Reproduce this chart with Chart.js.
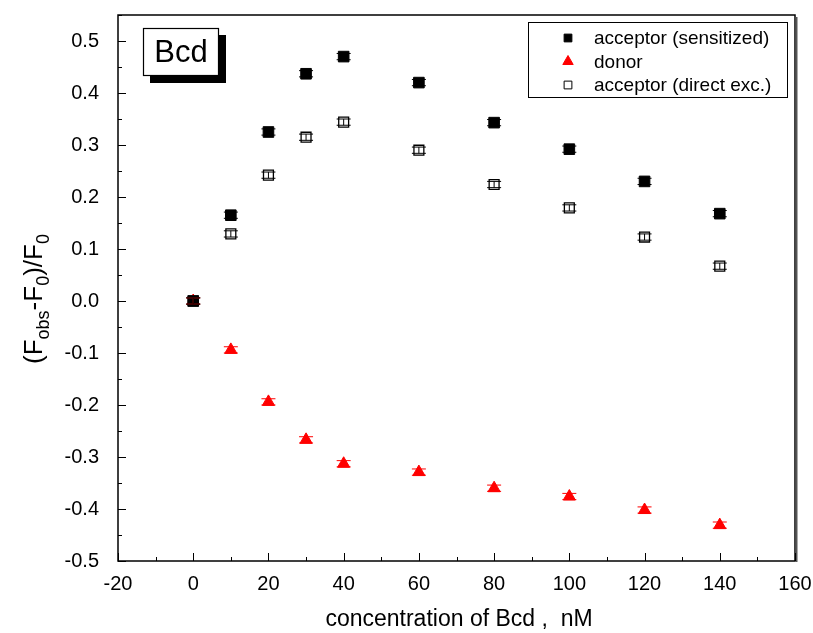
<!DOCTYPE html>
<html>
<head>
<meta charset="utf-8">
<script src="https://cdn.jsdelivr.net/npm/chart.js@4/dist/chart.umd.min.js"></script>
<style>
  body { margin: 0; background: #fff; }
  #wrap { width: 813px; height: 633px; }
</style>
</head>
<body>
<div id="wrap"><canvas id="chart" width="813" height="633"></canvas></div>
<script>
// Data
const concentrations = [0, 10, 20, 30, 40, 60, 80, 100, 120, 140];
const acceptorSensitized = [0, 0.165, 0.325, 0.437, 0.470, 0.420, 0.343, 0.292, 0.230, 0.168];
const donorValues = [0, -0.094, -0.194, -0.267, -0.313, -0.329, -0.360, -0.376, -0.402, -0.431];
const acceptorDirect = [0, 0.129, 0.242, 0.315, 0.344, 0.290, 0.224, 0.179, 0.123, 0.067];
const sensitizedErr = [0.006, 0.006, 0.006, 0.006, 0.006, 0.006, 0.006, 0.006, 0.006, 0.006];
const donorErr = [0.006, 0.006, 0.006, 0.006, 0.006, 0.006, 0.006, 0.006, 0.006, 0.006];
const directErr = [0.006, 0.006, 0.006, 0.006, 0.006, 0.006, 0.006, 0.006, 0.006, 0.006];
const seriesNames = ['acceptor (sensitized)', 'donor', 'acceptor (direct exc.)'];
const xTickValues = [-20, 0, 20, 40, 60, 80, 100, 120, 140, 160];
const yTickValues = [-0.5, -0.4, -0.3, -0.2, -0.1, 0.0, 0.1, 0.2, 0.3, 0.4, 0.5];
const xTitle = 'concentration of Bcd ,  nM';
const panelLabel = 'Bcd';

const FONT = '"Liberation Sans", Arial, sans-serif';

function toPoints(ys, errs) {
    return concentrations.map((x, i) => ({ x: x, y: ys[i], err: errs[i] }));
}

// Error bars with caps, drawn through the scales
const errorBars = {
    id: 'errorBars',
    afterDatasetsDraw(chart) {
        const ctx = chart.ctx;
        const xs = chart.scales.x, ys = chart.scales.y;
        chart.data.datasets.forEach(ds => {
            ctx.save();
            ctx.strokeStyle = ds.barColor;
            ctx.lineWidth = 1;
            ds.data.forEach(p => {
                const px = xs.getPixelForValue(p.x);
                const top = ys.getPixelForValue(p.y + p.err);
                const bot = ys.getPixelForValue(p.y - p.err);
                ctx.beginPath();
                ctx.moveTo(px, top); ctx.lineTo(px, bot);
                ctx.moveTo(px - 7, top); ctx.lineTo(px + 7, top);
                ctx.moveTo(px - 7, bot); ctx.lineTo(px + 7, bot);
                ctx.stroke();
            });
            ctx.restore();
        });
    }
};

// Frame, inward ticks, titles, panel label and legend
const decorations = {
    id: 'decorations',
    afterDraw(chart) {
        const ctx = chart.ctx;
        const a = chart.chartArea;
        const xs = chart.scales.x, ys = chart.scales.y;
        ctx.save();

        // frame (right side a bit heavier, like the original)
        ctx.strokeStyle = '#000';
        ctx.lineWidth = 1.5;
        ctx.strokeRect(a.left, a.top, a.right - a.left, a.bottom - a.top);
        ctx.strokeStyle = '#555';
        ctx.lineWidth = 2;
        ctx.beginPath();
        ctx.moveTo(a.right + 1.5, a.top + 2); ctx.lineTo(a.right + 1.5, a.bottom + 1);
        ctx.stroke();

        // ticks on left and bottom, pointing inward
        ctx.strokeStyle = '#000';
        ctx.lineWidth = 1;
        ctx.beginPath();
        for (let v = -20; v <= 160; v += 10) {
            const px = Math.round(xs.getPixelForValue(v)) + 0.5;
            const len = (v % 20 === 0) ? 8 : 4;
            ctx.moveTo(px, a.bottom); ctx.lineTo(px, a.bottom - len);
        }
        for (let k = -10; k <= 11; k++) {
            const v = k * 0.05;
            const py = Math.round(ys.getPixelForValue(v)) + 0.5;
            const len = (k % 2 === 0) ? 8 : 4;
            ctx.moveTo(a.left, py); ctx.lineTo(a.left + len, py);
        }
        ctx.stroke();

        // x title
        ctx.fillStyle = '#000';
        ctx.font = '23px ' + FONT;
        ctx.textAlign = 'center';
        ctx.textBaseline = 'middle';
        ctx.fillText(xTitle, 459, 620);

        // y title with subscripts
        const parts = [
            ['(F', 26, 0], ['obs', 18, 7], ['-F', 26, 0], ['0', 18, 7], [')/F', 26, 0], ['0', 18, 7]
        ];
        let total = 0;
        parts.forEach(p => { ctx.font = p[1] + 'px ' + FONT; total += ctx.measureText(p[0]).width; });
        ctx.translate(42, 299);
        ctx.rotate(-Math.PI / 2);
        ctx.textAlign = 'left';
        ctx.textBaseline = 'alphabetic';
        let cx = -total / 2;
        parts.forEach(p => {
            ctx.font = p[1] + 'px ' + FONT;
            ctx.fillText(p[0], cx, p[2]);
            cx += ctx.measureText(p[0]).width;
        });
        ctx.setTransform(1, 0, 0, 1, 0, 0);

        // panel label with shadow
        ctx.fillStyle = '#000';
        ctx.fillRect(150, 35, 76, 48);
        ctx.fillStyle = '#fff';
        ctx.fillRect(143, 28, 75, 47);
        ctx.strokeStyle = '#000';
        ctx.lineWidth = 1.2;
        ctx.strokeRect(143.5, 28.5, 75, 47);
        ctx.fillStyle = '#000';
        ctx.font = '31px ' + FONT;
        ctx.textAlign = 'center';
        ctx.textBaseline = 'middle';
        ctx.fillText(panelLabel, 181, 53);

        // legend
        ctx.fillStyle = '#fff';
        ctx.fillRect(528, 22, 259, 75);
        ctx.strokeStyle = '#000';
        ctx.lineWidth = 1;
        ctx.strokeRect(528.5, 22.5, 259, 75);
        ctx.font = '19px ' + FONT;
        ctx.textAlign = 'left';
        ctx.textBaseline = 'middle';
        chart.data.datasets.forEach((ds, i) => {
            const y = 38 + i * 23.5;
            const opts = {
                pointStyle: ds.pointStyle,
                radius: ds.pointStyle === 'triangle' ? 6 : 5.5,
                borderWidth: 1
            };
            ctx.fillStyle = ds.backgroundColor;
            ctx.strokeStyle = ds.borderColor;
            ctx.lineWidth = 1;
            Chart.helpers.drawPoint(ctx, opts, 568, y);
            ctx.fillStyle = '#000';
            ctx.fillText(ds.label, 594, y + 1);
        });

        ctx.restore();
    }
};

new Chart(document.getElementById('chart'), {
    type: 'scatter',
    data: {
        datasets: [
            {
                label: seriesNames[0],
                data: toPoints(acceptorSensitized, sensitizedErr),
                pointStyle: 'rect',
                pointRadius: 7.5,
                backgroundColor: '#000',
                borderColor: '#000',
                borderWidth: 1,
                barColor: '#000'
            },
            {
                label: seriesNames[1],
                data: toPoints(donorValues, donorErr),
                pointStyle: 'triangle',
                pointRadius: 7,
                backgroundColor: '#ff0000',
                borderColor: '#ff0000',
                borderWidth: 1,
                barColor: '#ff0000'
            },
            {
                label: seriesNames[2],
                data: toPoints(acceptorDirect, directErr),
                pointStyle: 'rect',
                pointRadius: 7,
                backgroundColor: '#fff',
                borderColor: '#000',
                borderWidth: 1.3,
                barColor: '#000'
            }
        ]
    },
    options: {
        responsive: false,
        animation: false,
        layout: { padding: { left: 0, top: 15, right: 18, bottom: 0 } },
        plugins: { legend: { display: false }, tooltip: { enabled: false } },
        scales: {
            x: {
                type: 'linear',
                min: -20,
                max: 160,
                grid: { display: false },
                border: { display: false },
                afterBuildTicks: s => { s.ticks = xTickValues.map(v => ({ value: v })); },
                afterFit: s => { s.height = 72; s.paddingLeft = 0; s.paddingRight = 0; },
                ticks: {
                    color: '#000',
                    padding: 3,
                    maxRotation: 0,
                    font: { family: FONT, size: 20 },
                    callback: v => String(v)
                }
            },
            y: {
                type: 'linear',
                min: -0.5,
                max: 0.55,
                grid: { display: false },
                border: { display: false },
                afterBuildTicks: s => { s.ticks = yTickValues.map(v => ({ value: v })); },
                afterFit: s => { s.width = 118; s.paddingTop = 0; s.paddingBottom = 0; },
                ticks: {
                    color: '#000',
                    padding: 11,
                    font: { family: FONT, size: 20 },
                    callback: v => Number(v).toFixed(1)
                }
            }
        }
    },
    plugins: [errorBars, decorations]
});
</script>
</body>
</html>
